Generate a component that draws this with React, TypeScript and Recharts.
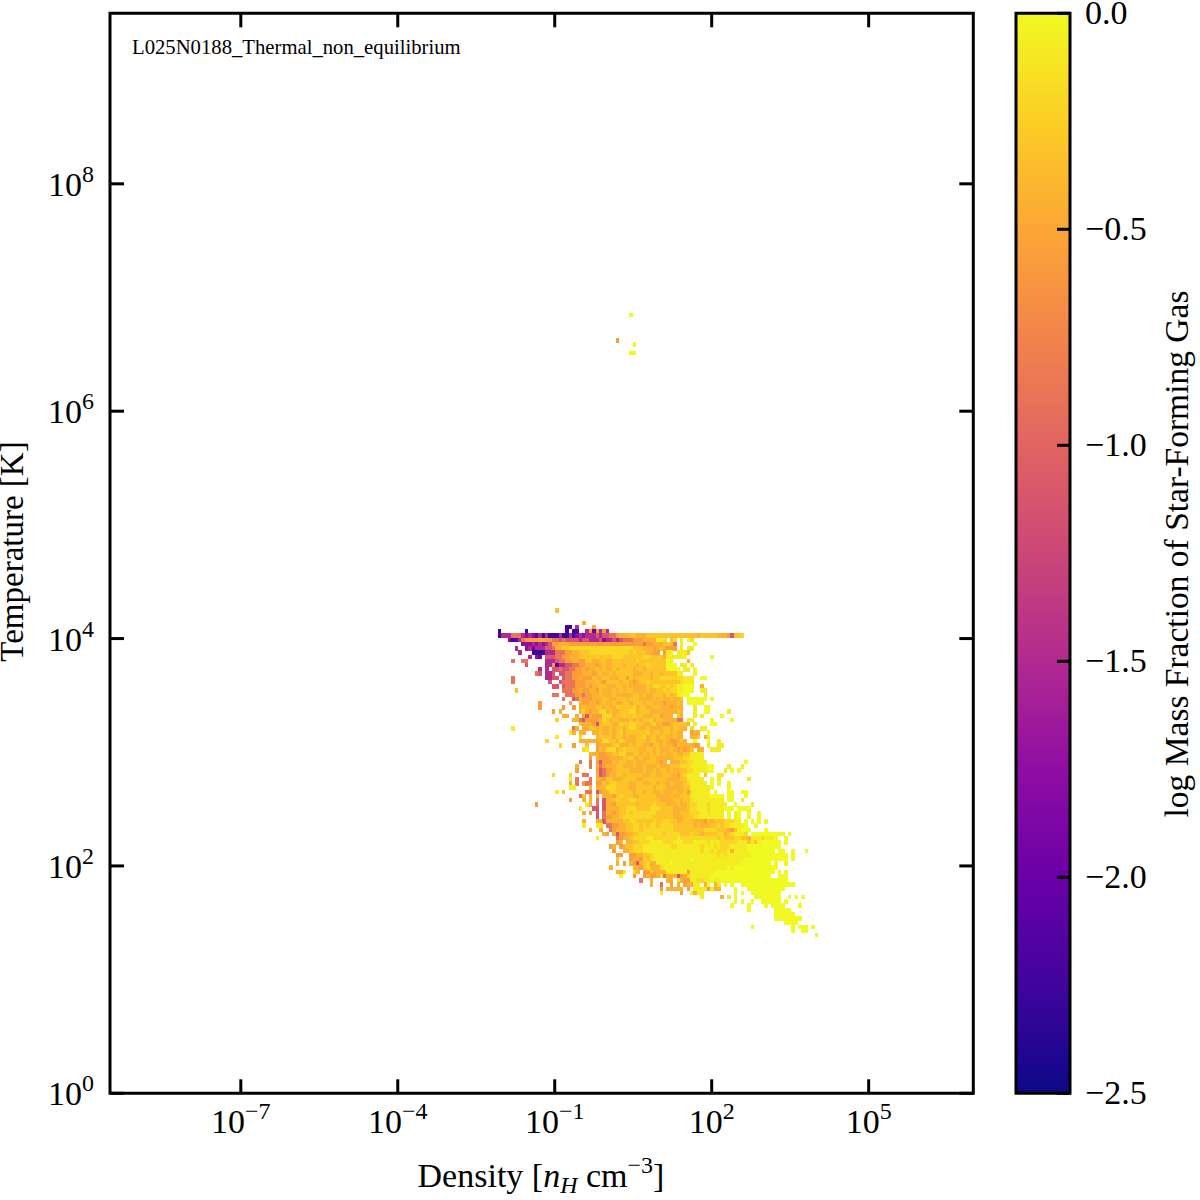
import React from "react"
import { Bar, BarChart, Customized, ReferenceArea, Scatter, ScatterChart, XAxis, YAxis } from "recharts"

const FONT = "'Liberation Serif', 'Times New Roman', serif"

const densityDomain = [-9.5, 7]
const temperatureDomain = [0, 9.5]
const densityTicks = [-7, -4, -1, 2, 5]
const temperatureTicks = [0, 2, 4, 6, 8]
const colorbarTicks = [-2.5, -2, -1.5, -1, -0.5, 0]
const colorbarLabels = ["\u22122.5", "\u22122.0", "\u22121.5", "\u22121.0", "\u22120.5", "0.0"]
const colorbarData = [{ name: "fraction", span: [-2.5, 0] }]

// plasma colormap, low to high
const plasmaStops = ["#0d0887", "#41049d", "#6a00a8", "#8f0da4", "#b12a90", "#cc4778", "#e16462", "#f2844b", "#fca636", "#fcce25", "#f0f921"]

// log mass fraction for each letter used in histogramRows
const levelValues: Record<string, number> = {
  a: -2.25, b: -2.0, c: -1.75, d: -1.5, e: -1.125, f: -0.875,
  g: -0.56, h: -0.43, i: -0.31, j: -0.2, k: -0.08, l: 0,
}

const BIN_COUNT = 256
const FIRST_COLUMN = 113
const FIRST_ROW = 114

// top row first. "k:letters" = cells starting k columns right of FIRST_COLUMN
const histogramRows = [
  "19:i", "", "",
  "27:h",
  "22:aa 25:d 30:h",
  "2:a 10:a 22:a 24:aa 28:d 29:g 30:b 31:g 32:d 33:g 34:d",
  "2:adddfffdcdcbdadaaadaadacdcdddedeeffghhhiihhhiiiiiiiiiiiiiiihiiiiihhhgeiij",
  "5:cabdfgggghhggffefeeeedeedddecddedefffggghhhhkkj 53:ij 56:k 58:l 59:j",
  "9:ccc 12:dcdcd 17:e 18:gghhhg 24:gggggg 30:ggggg 35:gggg 39:ggggg 44:gfggh 49:hhiii 54:f 56:k 60:l",
  "7:d 10:cdb 13:ddd 16:eef 19:hhiijj 25:jjjjjj 31:jjjjj 36:jjjj 40:jjiii 45:hhhgh 50:ih 52:ggg 56:k 58:kk",
  "8:d 12:aaaa 16:ddd 19:fff 22:gghhii 28:ijjjjj 34:jjjjjj 40:jijiii 46:hhgg 51:gkk 55:kkk 58:i",
  "11:d 13:cb 16:eee 19:ffgg 23:hhhiii 29:iijiii 35:ijjjii 41:iiiijj 47:iiiihh 52:kkkkk 57:l 65:l",
  "6:f 9:ff 16:ddd 19:effgg 24:hhggii 30:hhiihh 36:iiiiii 42:ijiiii 48:iiii 52:lk 58:h",
  "10:e 16:dd 18:g 19:b 20:dd 22:eef 25:fgghhh 31:ghihhi 37:iihiii 43:hiijii 49:iii 52:lll 56:kk 59:k",
  "14:d 16:d 18:eefee 23:ffgghg 29:hhihih 35:hihiii 41:ihiihi 47:iiiii 52:llll 57:kk 60:l",
  "13:fe 16:dd 18:e 20:eeffgg 26:ghhhgh 32:ihhihi 38:iiiihh 44:hiihii 50:hiiii 55:kk 60:l",
  "6:f 16:dde 19:e 21:effgg 26:hgggih 32:hiihhh 38:iigihi 44:iiihii 50:jjjjj 55:jj 57:kkk 62:ll",
  "6:f 17:e 20:effff 25:ggghhh 31:ihgiii 37:ihiihg 43:hiijii 49:iiiiii 55:ijkkk",
  "18:ee 21:efffg 26:gghghh 32:iihhhi 38:ihihhh 44:hhiijj 50:iijij 55:kk 57:lll 62:h",
  "7:i 21:ff 23:fgghg 28:ghhgih 34:hhihih 40:iihhhh 46:ihhiij 52:ijj 55:kk 57:lll 62:kk",
  "18:ff 22:f 23:ffggfg 29:ghhihh 35:hihhhh 41:hiihih 47:hiiih 52:jhik 56:lll 63:k",
  "21:f 24:e 25:fhggg 30:hhhiih 36:hiiihi 42:iihhhh 48:ihihh 53:ihhi 58:llllll 65:l",
  "14:g 23:g 26:hggh 30:hghihh 36:ihhiih 42:iiihii 48:hhhgh 53:hhih 58:lllll",
  "14:g 21:g 24:g 26:hih 29:hhiihi 35:hhjiii 41:ijhiih 47:hiihh 52:hghhh 60:k 63:ll",
  "18:g 20:h 26:hjhg 30:hhjjhi 36:hhiiij 42:jhiiih 48:hhhhh 53:hhih 60:k 63:ll 70:k",
  "21:hh 25:h 27:gehg 31:ggjjjh 37:iijiij 43:iihhhi 49:ighhh 55:ih 60:k 62:k 68:l",
  "19:j 24:hh 26:fegg 30:gghjih 36:iihhhi 42:hihiij 48:hiihh 53:hh 55:ff 58:kk 65:l 71:l",
  "26:ihhhgehi 34:iihhji 40:ijjiih 46:hijhhg 52:ghiiiih 60:k 65:ll",
  "6:k 24:fh 27:hhiih 32:ihhihi 38:ihijji 44:hhihhh 50:hiihii 56:hh 59:j 62:kk",
  "23:kh 26:hh 30:hhihhi 36:hijhii 42:iiiijh 48:iihiih 54:ihh 59:ghh 64:l",
  "19:k 26:j 31:hiiiih 37:iihihh 43:iijhii 49:hiihh 54:ihh 59:hhi 63:h 64:k",
  "16:j 26:hhhhhh 32:hjjiih 38:jihhhi 44:iihiih 50:hihgg 55:hih 60:l 64:l 67:k",
  "20:j 24:g 28:i 31:ghhhhij 38:hhhihi 44:ihhgii 50:hihhgg 55:ihhhh 60:gg 64:k 67:kk",
  "27:jk 31:gihjjjh 38:ijiiii 44:hhiihi 50:hhhihg 56:hghi 61:hh 65:kkk",
  "29:hhh 32:gghhii 38:jjhhii 44:hihihi 50:hihhih 56:hiikk 61:kk",
  "29:g 31:hggghh 37:hhiijh 43:hihhii 49:hhhhhi 55:iijjk 60:kkk",
  "26:f 29:f 31:gegggih 38:iihhih 44:hhiiih 50:gh 53:hhhii 58:jjkkkk 75:l",
  "25:h 29:f 31:hfghhh 37:iihhhi 43:hhihhh 49:ihhhi 54:iijj 58:jkkkkk 64:ll 70:k 74:k",
  "25:g 31:gefgghi 38:iiihhh 44:hihhih 50:iihihh 56:iijjkk 62:kk 64:ll 69:k 71:l 73:l",
  "18:j 23:j 27:ff 31:hefghh 37:iihiii 43:iihhii 49:hhiihh 55:gijkkk 61:k 63:i 67:kk",
  "23:k 25:f 29:f 31:hhgiih 37:hhiiii 43:hhiiii 49:iiihhh 55:hiikkk 61:kk 65:l 67:k 76:k",
  "23:h 25:f 27:gff 31:ggihij 37:iiiihh 43:iihhii 49:hihhih 55:hhijkk 61:kkk 65:l 67:l 70:l",
  "23:kk 29:h 31:hhhjjj 37:iiiihh 43:iiiiih 49:iiihhh 55:hhiikk 61:kkkk 65:l 70:l",
  "19:k 21:i 28:ff 31:eghhjj 37:iiiiih 43:iihiih 49:hihhhi 55:hhigjk 61:kkkk 66:l 70:ll 74:ll",
  "26:fi 29:h 31:h 33:hhhgij 39:iiihhi 45:iiiihh 51:hhihhi 57:iikkkk 63:kkl 66:lll 70:ll 75:l",
  "23:g 27:h 29:h 31:f 33:ehhiji 39:iijjii 45:iiiiih 51:hhhiih 57:iijkkk 63:kkkkkk 70:ll 74:k",
  "13:g 28:k 29:h 31:f 33:eh 35:hgiii 40:iiihii 46:iijiii 52:hhhihh 58:ijjkkk 64:jkkkkk 72:l 77:k",
  "26:k 30:ee 33:e 34:hhhhi 39:ijjjii 45:iijjji 51:iiihhh 57:hijjkk 63:kjkkkk 69:lll 73:llll",
  "27:h 29:g 31:e 33:f 34:hhghi 39:ijijjj 45:jjjjii 51:iiihhi 57:iijjjk 63:kjkkkk 70:l 72:kl 76:l 79:l",
  "31:e 33:f 34:gghhi 39:jjjjjj 45:jjjiii 51:iiihhh 57:iiijkk 63:kkkkkk 70:l 72:kl 76:l 79:l",
  "27:h 31:hh 33:ehhh 37:hhiijj 43:iiiiij 49:iijjii 55:hhiiih 61:hhgihi 67:iijjjk 73:k 75:l 77:l 79:l 81:l",
  "27:k 31:kk 34:ffgg 38:hhiijj 44:ijijji 50:jjjjii 56:iiiihi 62:hhhiij 68:ijjkkk 74:k 75:l 78:l",
  "29:h 32:h 35:fg 37:hhhiij 43:jijjjj 49:jjjjji 55:iiiiii 61:iijjjj 67:iiihgi 73:kk 74:lll 81:l",
  "33:hg 36:h 37:eggh 41:hiijjj 47:jjjjij 53:jjjiii 59:jiihii 65:iijjhi 71:jkkkj 77:llllllll 84:lll 88:l",
  "31:k 37:fg 39:hhijjj 45:jkkjjj 51:jjjjkj 57:jjjjjj 63:jjjjij 69:iiijj 74:iih 77:kkk 80:jkkkl 87:l",
  "37:gh 40:hhiijj 46:jkkkkj 52:jjkkkj 58:jjkkkk 64:jkkkjj 70:jjjkkk 76:ikikl 81:lllll 87:l",
  "35:gh 38:g 39:hiijjj 45:kkkkkk 51:kkjjkk 57:kkkkkj 63:kkkjkj 69:jjkkkk 75:klllll 81:lllll",
  "36:g 39:hhijjj 45:kkkkkk 51:kkkkkk 57:kkkkkj 63:kkjkjj 69:jkhkkk 75:klllll 81:lll 85:ll 89:l 93:l",
  "37:gg 41:gghhii 47:jkkkkk 53:kkkkkk 59:kkkkkk 65:kkjkjk 71:kkkkkk 77:llllll 83:lllll 89:l",
  "37:i 41:ghhgji 47:jkkkkk 53:kkkkkk 59:lkkkkk 65:kkkkkk 71:kkkkll 77:llllll 83:lllll 89:l",
  "37:h 39:g 41:hgehij 47:hhkkkk 53:lkkkkk 59:kkkkkk 65:kkkkkk 71:kkklll 77:llllll 84:l 87:l",
  "35:h 42:hhgijh 48:hhjkkk 54:kkkkkk 60:kkkkkk 66:kkkklk 72:llllll 78:llllll 84:l",
  "37:hhk 42:jh 45:ggihhh 51:hkkkkk 57:kgkkkk 63:kkklll 69:llllll 75:llllll 81:lll 85:l 87:l",
  "38:l 42:g 45:ghgghk 51:f 52:hhhe 56:ghjkkk 62:kkklll 68:llllll 74:llllll 80:lll 85:lll",
  "44:f 47:h 52:hh 55:kh 57:ggk 60:kjjkkl 66:kkllll 72:llllll 78:llllll 84:llll",
  "47:h 50:f 53:g 55:h 57:gh 59:h 60:kk 63:h 64:l 66:h 67:k 69:l 71:l 74:llllll 80:llllll 86:llll",
  "50:g 52:hhhhh 58:g 60:kk 62:kkgkh 67:h 72:l 76:llllll 82:lllll",
  "50:k 56:g 59:khk 62:k 72:l 74:l 77:llllll 83:lll",
  "62:k 68:h 70:k 72:l 78:llllll 84:ll 88:l 90:l 92:l",
  "72:l 74:l 77:l 80:llllll 87:l",
  "71:l 76:l 81:l 83:llll 91:l",
  "76:l 84:lllll",
  "84:llllll",
  "84:llllllll",
  "87:llll",
  "77:l 89:l 91:lll 95:l",
  "89:l 92:ll",
  "96:l",
]

// the few hot cells far above the main cloud: column, row, level
const hotCellColumns = [154, 150, 155, 154, 155]
const hotCellRows = [184, 178, 177, 175, 175]
const hotCellLevels = ["l", "g", "l", "l", "l"]

const binX = (densityDomain[1] - densityDomain[0]) / BIN_COUNT
const binY = (temperatureDomain[1] - temperatureDomain[0]) / BIN_COUNT

const makeCell = (column: number, row: number, level: string) => ({
  logN: densityDomain[0] + (column + 0.5) * binX,
  logT: temperatureDomain[0] + (row + 0.5) * binY,
  fraction: levelValues[level],
})

const cells = [
  ...histogramRows.flatMap((text, i) =>
    text.split(" ").filter(Boolean).flatMap((part) => {
      const [start, letters] = part.split(":")
      return letters.split("").map((level, j) => makeCell(FIRST_COLUMN + Number(start) + j, FIRST_ROW - i, level))
    })
  ),
  ...hotCellColumns.map((column, i) => makeCell(column, hotCellRows[i], hotCellLevels[i])),
]

const PLOT = { left: 110, right: 973.3, top: 13.3, bottom: 1093.3 }
const CELL_W = (PLOT.right - PLOT.left) / BIN_COUNT
const CELL_H = (PLOT.bottom - PLOT.top) / BIN_COUNT
const TICK = 14

function fractionColor(value: number) {
  const t = ((value + 2.5) / 2.5) * (plasmaStops.length - 1)
  const i = Math.min(Math.floor(t), plasmaStops.length - 2)
  const f = t - i
  const a = plasmaStops[i]
  const b = plasmaStops[i + 1]
  const mix = (s: number) => {
    const p = parseInt(a.slice(s, s + 2), 16)
    const q = parseInt(b.slice(s, s + 2), 16)
    return Math.round(p + (q - p) * f)
  }
  return `rgb(${mix(1)},${mix(3)},${mix(5)})`
}

function CellShape(props: any) {
  return (
    <rect
      x={props.cx - CELL_W / 2}
      y={props.cy - CELL_H / 2}
      width={CELL_W + 0.2}
      height={CELL_H + 0.2}
      fill={fractionColor(props.payload.fraction)}
      shapeRendering="crispEdges"
    />
  )
}

function PowerLabel({ x, y, anchor, power }: { x: number; y: number; anchor: string; power: string }) {
  return (
    <text x={x} y={y} textAnchor={anchor} fontFamily={FONT} fontSize={34} fill="#000">
      <tspan>10</tspan>
      <tspan dy={-14} fontSize={24}>{power}</tspan>
    </text>
  )
}

function DensityTick(props: any) {
  const x = props.payload.coordinate
  return (
    <g>
      <line x1={x} x2={x} y1={PLOT.bottom} y2={PLOT.bottom - TICK} stroke="#000" strokeWidth={3} />
      <line x1={x} x2={x} y1={PLOT.top} y2={PLOT.top + TICK} stroke="#000" strokeWidth={3} />
      <PowerLabel x={x} y={1133} anchor="middle" power={String(props.payload.value).replace("-", "\u2212")} />
    </g>
  )
}

function TemperatureTick(props: any) {
  const y = props.payload.coordinate
  return (
    <g>
      <line x1={PLOT.left} x2={PLOT.left + TICK} y1={y} y2={y} stroke="#000" strokeWidth={3} />
      <line x1={PLOT.right} x2={PLOT.right - TICK} y1={y} y2={y} stroke="#000" strokeWidth={3} />
      <PowerLabel x={94} y={y + 12} anchor="end" power={String(props.payload.value)} />
    </g>
  )
}

function ColorbarTick(props: any) {
  const y = props.payload.coordinate
  return (
    <g>
      <line x1={1070} x2={1057} y1={y} y2={y} stroke="#000" strokeWidth={3} />
      <text x={1085} y={y + 11} fontFamily={FONT} fontSize={34} fill="#000">
        {colorbarLabels[props.index]}
      </text>
    </g>
  )
}

function PlotText() {
  return (
    <g fontFamily={FONT} fill="#000">
      <text x={132} y={54} fontSize={20.7}>L025N0188_Thermal_non_equilibrium</text>
      <text x={541} y={1187} fontSize={34} textAnchor="middle">
        Density [<tspan fontStyle="italic">n</tspan>
        <tspan fontStyle="italic" fontSize={24} dy={6}>H</tspan>
        <tspan dy={-6}> cm</tspan>
        <tspan fontSize={24} dy={-14}>{"\u22123"}</tspan>
        <tspan dy={14}>]</tspan>
      </text>
      <text transform="translate(22.5,551.5) rotate(-90)" fontSize={33} textAnchor="middle">Temperature [K]</text>
    </g>
  )
}

function ColorbarText() {
  return (
    <text transform="translate(1188,554) rotate(-90)" fontFamily={FONT} fontSize={33.5} textAnchor="middle" fill="#000">
      log Mass Fraction of Star-Forming Gas
    </text>
  )
}

export default function App() {
  return (
    <div style={{ position: "absolute", left: 0, top: 0, width: 1200, height: 1200, background: "#fff" }}>
      <div style={{ position: "absolute", left: 0, top: 0 }}>
        <ScatterChart width={1200} height={1200} margin={{ top: PLOT.top, right: 1200 - PLOT.right, bottom: 0, left: 0 }}>
          <XAxis
            type="number"
            dataKey="logN"
            domain={densityDomain}
            ticks={densityTicks}
            interval={0}
            height={1200 - PLOT.bottom}
            axisLine={false}
            tickLine={false}
            tick={DensityTick}
          />
          <YAxis
            type="number"
            dataKey="logT"
            domain={temperatureDomain}
            ticks={temperatureTicks}
            interval={0}
            width={PLOT.left}
            axisLine={false}
            tickLine={false}
            tick={TemperatureTick}
          />
          <Scatter data={cells} shape={CellShape} isAnimationActive={false} />
          <ReferenceArea
            x1={densityDomain[0]}
            x2={densityDomain[1]}
            y1={temperatureDomain[0]}
            y2={temperatureDomain[1]}
            fill="none"
            stroke="#000"
            strokeWidth={3}
          />
          <Customized component={PlotText} />
        </ScatterChart>
      </div>
      <div style={{ position: "absolute", left: 0, top: 0 }}>
        <BarChart
          width={1200}
          height={1200}
          data={colorbarData}
          barCategoryGap={0}
          margin={{ top: PLOT.top, right: 0, bottom: 1200 - PLOT.bottom, left: 1016 }}
        >
          <defs>
            <linearGradient id="plasmaBar" x1="0" y1="1" x2="0" y2="0">
              {plasmaStops.map((color, i) => (
                <stop key={color} offset={i / (plasmaStops.length - 1)} stopColor={color} />
              ))}
            </linearGradient>
          </defs>
          <XAxis dataKey="name" hide />
          <YAxis
            orientation="right"
            type="number"
            domain={[-2.5, 0]}
            ticks={colorbarTicks}
            interval={0}
            width={130}
            axisLine={false}
            tickLine={false}
            tick={ColorbarTick}
          />
          <Bar dataKey="span" fill="url(#plasmaBar)" stroke="#000" strokeWidth={3} isAnimationActive={false} />
          <Customized component={ColorbarText} />
        </BarChart>
      </div>
    </div>
  )
}
